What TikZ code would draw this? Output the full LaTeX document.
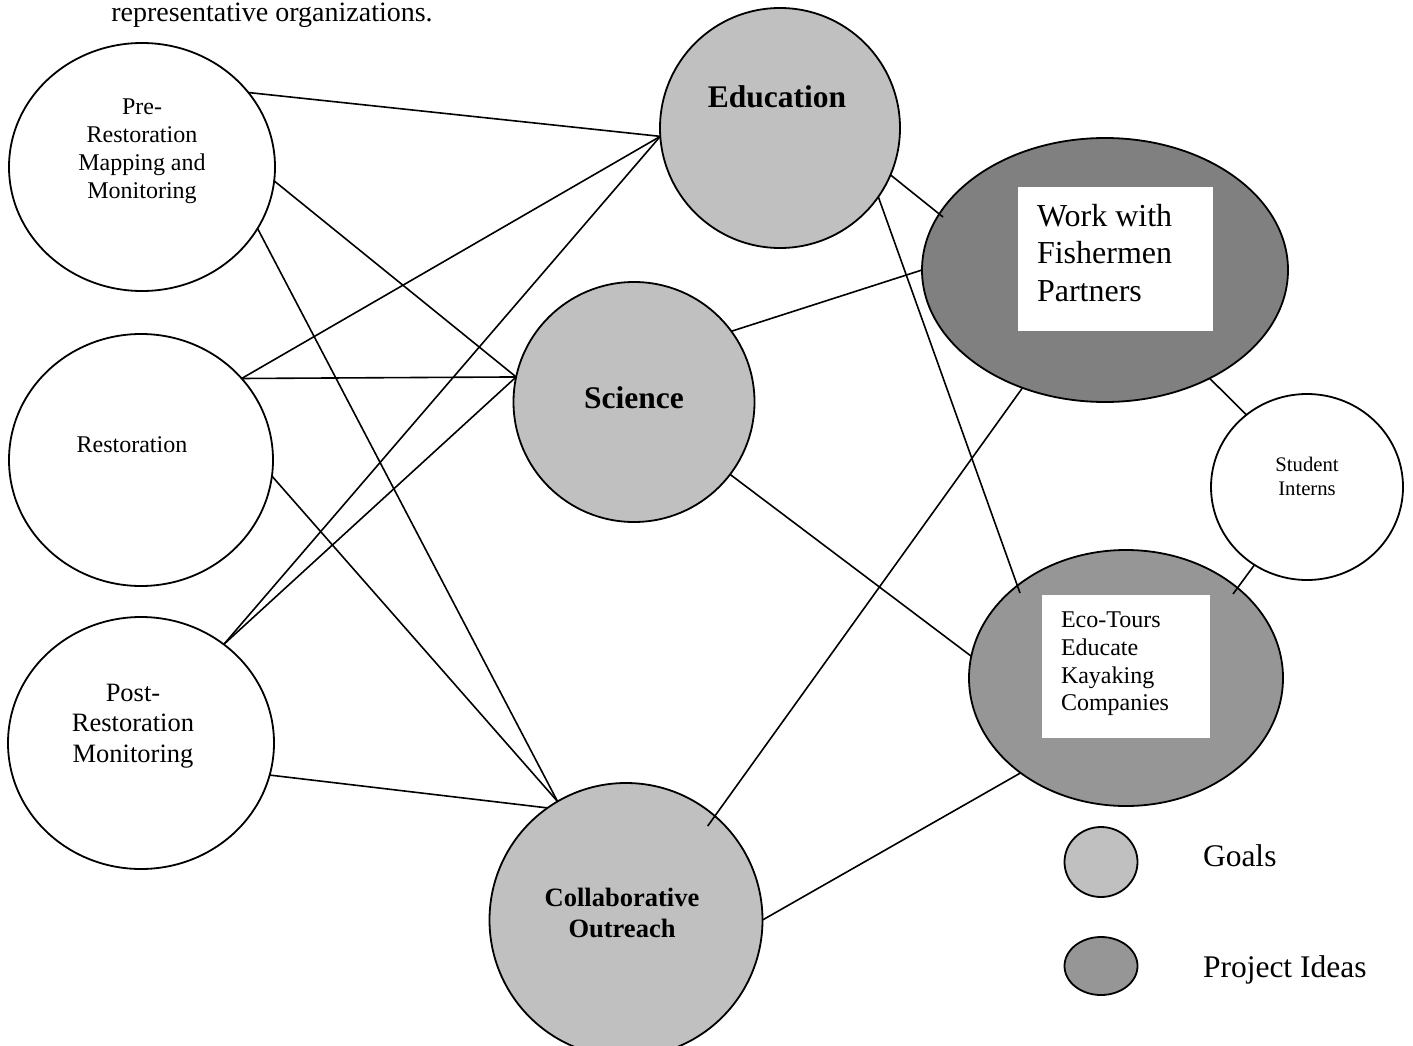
\documentclass[tikz,border=0pt]{standalone}
\usepackage{fontspec}
\setmainfont{Liberation Serif}
\usetikzlibrary{shapes.geometric,calc}
\definecolor{goalgray}{HTML}{C0C0C0}
\definecolor{workgray}{HTML}{808080}
\definecolor{ecogray}{HTML}{969696}
\tikzset{
  blob/.style={ellipse, draw=black, line width=1.8pt, inner sep=0pt, outer sep=0pt},
  plain/.style={blob, fill=white},
  goal/.style={blob, fill=goalgray},
  conn/.style={line width=1.6pt, black},
  txt/.style={inner sep=0pt, outer sep=0pt, align=center, text=black},
  boxw/.style={fill=white, draw=none, inner sep=0pt},
}
\begin{document}
\begin{tikzpicture}[x=1pt,y=-1pt]
\useasboundingbox (0,0) rectangle (1413,1046);
% top text
\node[txt, anchor=base, font=\fontsize{28}{32}\selectfont] (cap) at (272,22) {representative organizations.};
% left circles
\node[plain, minimum width=266pt, minimum height=248pt] (pre) at (142,167) {};
\node[plain, minimum width=264pt, minimum height=252pt] (res) at (141,460) {};
\node[plain, minimum width=266pt, minimum height=252pt] (post) at (141,743) {};
% goals
\node[goal, minimum width=240pt, minimum height=240pt] (edu) at (780,128) {};
\node[goal, minimum width=241pt, minimum height=240pt] (sci) at (634,402) {};
\node[goal, minimum width=273pt, minimum height=274pt] (col) at (626,920) {};
% project ideas
\node[blob, fill=workgray, minimum width=366pt, minimum height=264pt] (work) at (1105,270) {};
\node[blob, fill=ecogray, minimum width=314pt, minimum height=256pt] (eco) at (1126,678) {};
\node[plain, minimum width=192pt, minimum height=186pt] (stu) at (1307,487) {};
% legend
\node[goal, minimum width=73pt, minimum height=70pt] (lgoal) at (1101,862) {};
\node[blob, fill=ecogray, minimum width=73pt, minimum height=58pt] (lproj) at (1101,966) {};
\node[txt, anchor=base west, font=\fontsize{31.5}{36}\selectfont] (lgoalt) at (1203,866) {Goals};
\node[txt, anchor=base west, font=\fontsize{31.5}{36}\selectfont] (lprojt) at (1203,977) {Project Ideas};
% white boxes
\node[boxw, minimum width=195pt, minimum height=144pt] (workbox) at (1115.5,259) {};
\node[boxw, minimum width=168pt, minimum height=143pt] (ecobox) at (1126,666.5) {};
% texts
\node[txt, font=\fontsize{24}{28}\selectfont] (pret) at (142,151) {Pre-\\Restoration\\Mapping and\\Monitoring};
\node[txt, font=\fontsize{24}{28}\selectfont] (rest) at (132,445) {Restoration};
\node[txt, font=\fontsize{26.5}{30.5}\selectfont] (postt) at (133,726) {Post-\\Restoration\\Monitoring};
\node[txt, font=\fontsize{31.5}{36}\selectfont\bfseries] (edut) at (777,97) {Education};
\node[txt, font=\fontsize{31.5}{36}\selectfont\bfseries] (scit) at (634,398) {Science};
\node[txt, font=\fontsize{26.5}{31}\selectfont\bfseries] (colt) at (622,913) {Collaborative\\Outreach};
\node[txt, font=\fontsize{20.7}{24}\selectfont] (stut) at (1307,476) {Student\\Interns};
\node[txt, align=left, anchor=west, font=\fontsize{32}{37.5}\selectfont] (workt) at (1037,253) {Work with\\Fishermen\\Partners};
\node[txt, align=left, anchor=west, font=\fontsize{24}{27.7}\selectfont] (ecot) at (1061,664) {Eco-Tours\\Educate\\Kayaking\\Companies};
% connectors
\draw[conn] (pre.35) -- (edu.184);
\draw[conn] (pre.-6) -- (sci.168.6);
\draw[conn] (pre.-28) -- (col.120.5);
\draw[conn] (res.39) -- (edu.184);
\draw[conn] (res.39) -- (sci.168.6);
\draw[conn] (res.-7) -- (col.120.5);
\draw[conn] (post.50) -- (edu.184);
\draw[conn] (post.50) -- (sci.168.6);
\draw[conn] (post.-14) -- (col.125.4);
\draw[conn] (edu.-23) -- ($(work.center)+(-162,-53)$);
\draw[conn] (edu.-35) -- ($(eco.center)+(-106,-85)$);
\draw[conn] (sci.36) -- (work.180);
\draw[conn] (sci.-37) -- (eco.172);
\draw[conn] ($(col.center)!0.91!(col.49.5)$) -- (work.235);
\draw[conn] (col.0) -- (eco.222);
\draw[conn] (work.-46) -- (stu.130);
\draw[conn] (stu.236) -- ($(eco.center)+(107,-84)$);
\end{tikzpicture}
\end{document}
